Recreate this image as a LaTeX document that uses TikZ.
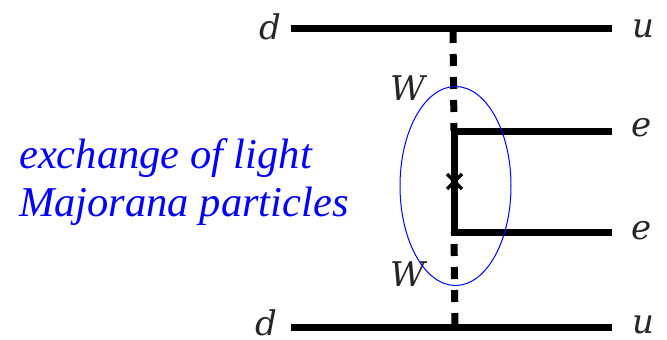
\documentclass[tikz,border=0pt]{standalone}
\usepackage{fontspec}
\setmainfont{Liberation Serif}
\newfontfamily\labfont{DejaVu Serif}
\begin{document}
\begin{tikzpicture}[x=1pt,y=-1pt,
  fermion/.style={line width=7pt},
  wboson/.style={line width=7pt,dash pattern=on 12pt off 11pt},
  massmark/.style={line width=3.5pt},
  lab/.style={font=\labfont\itshape\fontsize{34}{34}\selectfont,text=black!85,inner sep=0pt,anchor=center},
  note/.style={font=\itshape\fontsize{42.5}{44}\selectfont,text=blue,inner sep=0pt,anchor=west}]
\useasboundingbox (0,0) rectangle (667,340);
\coordinate (tl) at (291,28); \coordinate (tr) at (612,28);
\coordinate (bl) at (291,327); \coordinate (br) at (612,327);
\coordinate (tv) at (453,28); \coordinate (bv) at (455,327);
\coordinate (v1) at (454,131); \coordinate (v2) at (454,232);
\coordinate (e1) at (612,131); \coordinate (e2) at (612,232);
\draw[fermion] (tl) -- (tr);
\draw[fermion] (bl) -- (br);
\draw[wboson] (tv) ++(0,3) -- (v1);
\draw[wboson] (bv) ++(0,-2) -- (v2);
\draw[fermion,line join=miter] (e1) -- (v1) -- (v2) -- (e2);
\draw[massmark] (447,174) -- (462,189) (462,174) -- (447,189);
\node[lab] (d1) at (270,27) {d};
\node[lab] (u1) at (643,29) {u};
\node[lab] (d2) at (266,323) {d};
\node[lab] (u2) at (643,325) {u};
\node[lab] (e3) at (642,128) {e};
\node[lab] (e4) at (642,231) {e};
\node[lab] (w1) at (408,88) {W};
\node[lab] (w2) at (408,274) {W};
\draw[blue,line width=1pt] (455.5,186) ellipse [x radius=55.5,y radius=99.5];
\node[note] (n1) at (19,158) {exchange of light};
\node[note] (n2) at (19,206) {Majorana particles};
\end{tikzpicture}
\end{document}
